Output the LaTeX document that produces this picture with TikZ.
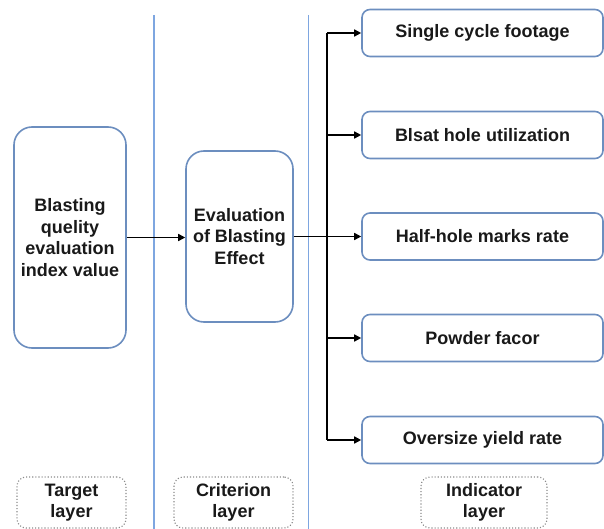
\documentclass[tikz,border=0pt]{standalone}
\usepackage{fontspec}
\setmainfont{Liberation Sans}
\usetikzlibrary{arrows.meta}
\definecolor{boxblue}{HTML}{6C8EBF}
\definecolor{lineblue}{HTML}{7EA6E0}
\definecolor{dotgray}{HTML}{8A8A8A}
\begin{document}
\begin{tikzpicture}[x=1pt,y=-1pt,
  every node/.style={font=\fontsize{18}{21.5}\selectfont\bfseries, text=black!90, align=center, inner sep=0pt},
  bigbox/.style={draw=boxblue, line width=1.6pt, rounded corners=18pt},
  indbox/.style={draw=boxblue, line width=1.6pt, rounded corners=8pt, minimum width=241pt, minimum height=47pt},
  layerbox/.style={draw=dotgray, dotted, line width=1.1pt, rounded corners=9pt, minimum height=51pt},
  sep/.style={draw=lineblue, line width=1.6pt},
  conn/.style={draw=black, line width=1.5pt},
  arr/.style={conn, -{Triangle[length=7pt,width=7pt]}}
]
\useasboundingbox (0,0) rectangle (604,529);
% separators
\coordinate (s1t) at (154,15); \coordinate (s1b) at (154,529);
\coordinate (s2t) at (308.5,15); \coordinate (s2b) at (308.5,529);
\draw[sep] (s1t) -- (s1b);
\draw[sep] (s2t) -- (s2b);
% boxes
\node[bigbox, minimum width=112pt, minimum height=221pt] (goal) at (70,237.5) {Blasting\\quelity\\evaluation\\index value};
\node[bigbox, minimum width=107pt, minimum height=171pt] (crit) at (239.5,236.5) {Evaluation\\of Blasting\\Effect};
\node[indbox] (i1) at (482.5,33) {Single cycle footage};
\node[indbox] (i2) at (482.5,135) {Blsat hole utilization};
\node[indbox] (i3) at (482.5,236.5) {Half-hole marks rate};
\node[indbox] (i4) at (482.5,338) {Powder facor};
\node[indbox] (i5) at (482.5,440) {Oversize yield rate};
% layer labels
\node[layerbox, minimum width=109pt] (l1) at (71.5,502.5) {Target\\layer};
\node[layerbox, minimum width=119pt] (l2) at (233.5,502.5) {Criterion\\layer};
\node[layerbox, minimum width=126pt] (l3) at (484,502.5) {Indicator\\layer};
% connectors
\draw[arr] (goal.east) -- (crit.west |- goal.east);
\coordinate (tt) at (327,33);
\coordinate (tb) at (327,440);
\draw[conn] (tt) -- (tb);
\draw[arr] (tt) -- (i1.west);
\draw[arr] (tt |- i2.west) -- (i2.west);
\draw[arr] (crit.east) -- (i3.west);
\draw[arr] (tt |- i4.west) -- (i4.west);
\draw[arr] (tb) -- (i5.west);
\end{tikzpicture}
\end{document}
